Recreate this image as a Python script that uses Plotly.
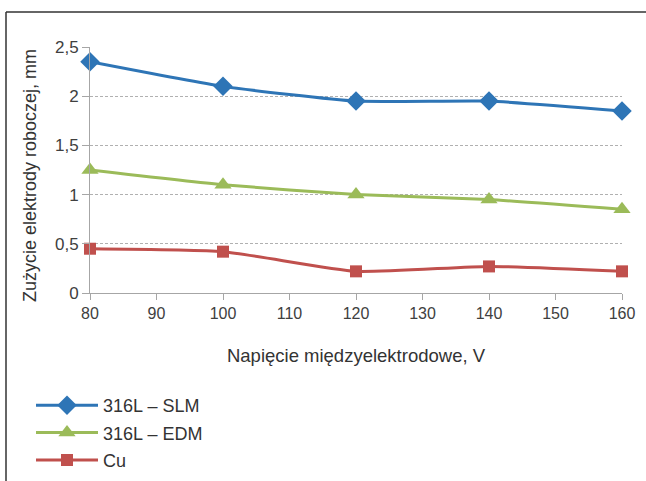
import plotly.graph_objects as go

voltage = [80, 100, 120, 140, 160]
slm = [2.35, 2.10, 1.95, 1.95, 1.85]
edm = [1.25, 1.10, 1.00, 0.95, 0.85]
cu = [0.45, 0.42, 0.22, 0.27, 0.22]
names = ["316L – SLM", "316L – EDM", "Cu"]
y_title = "Zużycie elektrody roboczej, mm"
x_title = "Napięcie międzyelektrodowe, V"

L, R, T, B = 90, 24, 47, 188
W, H = 646, 481
PW, PH = W - L - R, H - T - B

def px(x):
    return (x - L) / PW

def py(y):
    return (H - B - y) / PH

fig = go.Figure()
specs = [
    (slm, names[0], "#2E75B6", "diamond", 15),
    (edm, names[1], "#9BBB59", "triangle-up", 15),
    (cu, names[2], "#C0504D", "square", 12),
]
for i, (vals, nm, col, sym, sz) in enumerate(specs):
    fig.add_trace(go.Scatter(
        x=voltage, y=vals, name=nm, mode="lines+markers",
        line=dict(color=col, width=3, shape="spline", smoothing=0.5),
        marker=dict(symbol=sym, size=sz, color=col),
        legendgroup=f"g{i}", cliponaxis=False,
    ))

fig.update_layout(
    width=W, height=H,
    margin=dict(l=L, r=R, t=T, b=B, autoexpand=False),
    paper_bgcolor="white", plot_bgcolor="white",
    separators=", ",
    font=dict(family="Liberation Sans, Arial, sans-serif", size=18, color="#333333"),
    showlegend=True,
    legend=dict(xref="container", yref="container",
                x=31 / W, y=1 - 387 / H, xanchor="left", yanchor="top",
                font=dict(size=18, color="#333333"), tracegroupgap=1,
                itemwidth=62, bgcolor="rgba(0,0,0,0)"),
    xaxis=dict(range=[80, 160], tickvals=[80, 90, 100, 110, 120, 130, 140, 150, 160],
               showgrid=False, showline=True, linecolor="#A6A6A6", linewidth=1,
               ticks="outside", ticklen=6, tickcolor="#A6A6A6",
               tickfont=dict(size=16, color="#404040"),
               title=dict(text=x_title, standoff=27,
                          font=dict(size=18.5, color="#333333")),
               zeroline=False),
    yaxis=dict(range=[0, 2.5], tickvals=[0, 0.5, 1, 1.5, 2, 2.5],
               ticktext=["0", "0,5", "1", "1,5", "2", "2,5"],
               showgrid=True, gridcolor="#B0B0B0", griddash="3px,2px", gridwidth=1,
               showline=True, linecolor="#A6A6A6", linewidth=1,
               ticks="outside", ticklen=7, tickcolor="#A6A6A6",
               tickfont=dict(size=17, color="#404040"),
               zeroline=False),
)

fig.add_annotation(text=y_title, xref="paper", yref="paper",
                   x=px(30), y=py(176), textangle=-90, showarrow=False,
                   xanchor="center", yanchor="middle",
                   font=dict(size=18, color="#333333"))

# outer frame (left and top)
fig.add_shape(type="line", xref="paper", yref="paper",
              x0=px(6), x1=px(6), y0=py(481), y1=py(12),
              line=dict(color="#333333", width=1.5))
fig.add_shape(type="line", xref="paper", yref="paper",
              x0=px(6), x1=px(646), y0=py(12), y1=py(12),
              line=dict(color="#333333", width=1.5))

fig.write_html("out.html")
